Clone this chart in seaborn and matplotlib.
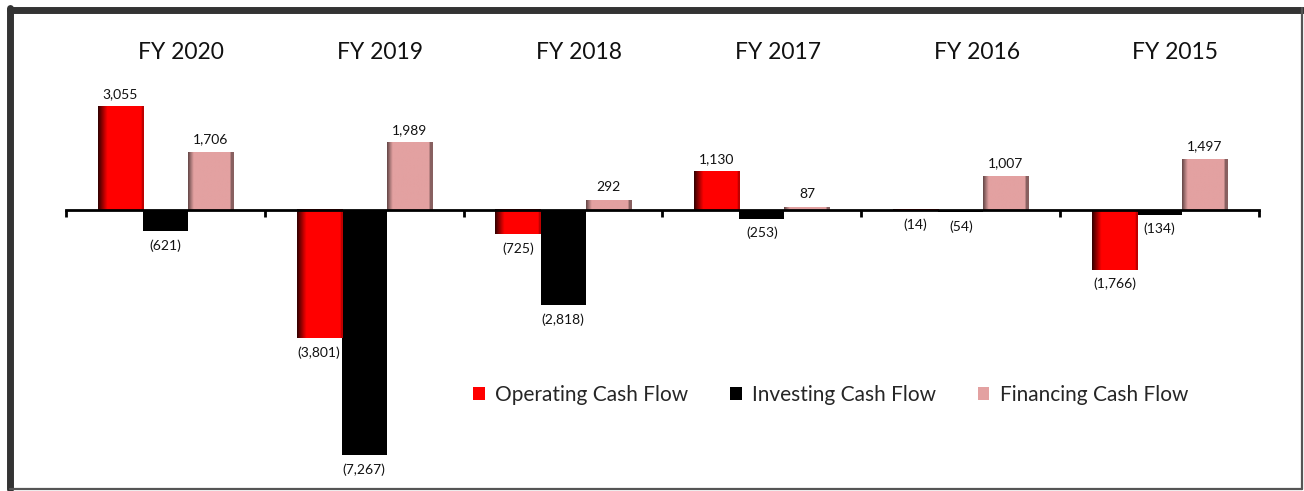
import numpy as np
import pandas as pd
import matplotlib
matplotlib.use("Agg")
import matplotlib.pyplot as plt
import matplotlib.lines as mlines
import seaborn as sns

# data (USD mn)
years = ["FY 2020", "FY 2019", "FY 2018", "FY 2017", "FY 2016", "FY 2015"]
operating = [3055, -3801, -725, 1130, -14, -1766]
investing = [-621, -7267, -2818, -253, -54, -134]
financing = [1706, 1989, 292, 87, 1007, 1497]
series = ["Operating Cash Flow", "Investing Cash Flow", "Financing Cash Flow"]
colors = ["#ff0000", "#000000", "#e3a1a1"]

df = pd.DataFrame({
    "year": years * 3,
    "flow": [series[0]] * 6 + [series[1]] * 6 + [series[2]] * 6,
    "value": operating + investing + financing,
})

sns.set_style("white")
plt.rcParams["font.family"] = ["Lato", "DejaVu Sans"]

fig = plt.figure(figsize=(13.04, 4.91), dpi=100)
ax = fig.add_axes([0.0506, 0.0631, 0.9149, 0.8147])

sns.barplot(data=df, x="year", y="value", hue="flow", order=years,
            hue_order=series, palette=colors, width=0.68, gap=0,
            saturation=1, ax=ax, edgecolor="none", linewidth=0)

handles, labels = ax.get_legend_handles_labels()
if ax.get_legend() is not None:
    ax.get_legend().remove()


def shade_profile(kind, n=80):
    t = np.linspace(0, 1, n)
    if kind == "red":
        f = np.clip(0.2 + 0.8 * t / 0.2, 0, 1)
        f = np.where(t > 0.95, 0.75, f)
    else:
        f = np.clip(0.45 + 0.55 * t / 0.12, 0, 1)
        f = np.where(t > 0.93, 0.6, f)
    return f


# cylinder-like shading on the coloured bars
for cont, col in zip(ax.containers, colors):
    if col == "#000000":
        continue
    rgb = np.array(matplotlib.colors.to_rgb(col))
    prof = shade_profile("red" if col == "#ff0000" else "pink")
    img = (prof[:, None] * rgb[None, :])[None, :, :]
    for p in cont.patches:
        h = p.get_height()
        if h == 0:
            continue
        x0, w, y0 = p.get_x(), p.get_width(), p.get_y()
        ax.imshow(img, extent=[x0, x0 + w, min(y0, y0 + h), max(y0, y0 + h)],
                  aspect="auto", interpolation="bilinear",
                  zorder=p.get_zorder() + 0.1)

# value labels
for cont in ax.containers:
    for p in cont.patches:
        v = p.get_height()
        xc = p.get_x() + p.get_width() / 2
        if v >= 0:
            txt, va, off = f"{v:,.0f}", "bottom", 5
        else:
            txt, va, off = f"({abs(v):,.0f})", "top", -6
        ax.annotate(txt, (xc, v), xytext=(0, off), textcoords="offset points",
                    ha="center", va=va, fontsize=10, color="#111111")

# year headers on top (sit a little right of the group centre)
for i, yr in enumerate(years):
    ax.text(i + 0.08, 1.018, yr, transform=ax.get_xaxis_transform(),
            ha="center", va="center", fontsize=16.5, color="#111111")

ax.set_xlim(-0.5, len(years) - 0.5)
ax.set_ylim(-7415, 4449)
for s in ["top", "right", "left"]:
    ax.spines[s].set_visible(False)
ax.spines["bottom"].set_position(("data", 0))
ax.spines["bottom"].set_linewidth(2)
ax.spines["bottom"].set_color("black")
ax.spines["bottom"].set_zorder(5)
ax.set_xticks(np.arange(-0.5, len(years), 1))
ax.set_xticklabels([])
ax.tick_params(axis="x", direction="out", length=5, width=2, color="black",
               bottom=True)
ax.set_yticks([])
ax.set_xlabel("")
ax.set_ylabel("")

ax.legend(handles, labels, loc="center", bbox_to_anchor=(0.641, 0.163),
          ncol=3, frameon=False, fontsize=15, handlelength=0.55,
          handleheight=0.55, handletextpad=0.5, columnspacing=2.0)

# outer frame (thicker on top and left)
fig.add_artist(mlines.Line2D([0.0077, 0.999], [0.979, 0.979], color="#333333",
                             lw=5, transform=fig.transFigure))
fig.add_artist(mlines.Line2D([0.0077, 0.0077], [0.004, 0.984], color="#333333",
                             lw=5, transform=fig.transFigure))
fig.add_artist(mlines.Line2D([0.9985, 0.9985], [0.004, 0.984], color="#555555",
                             lw=1.6, transform=fig.transFigure))
fig.add_artist(mlines.Line2D([0.0077, 0.9985], [0.005, 0.005], color="#555555",
                             lw=1.6, transform=fig.transFigure))

fig.savefig("out.png", dpi=100, facecolor="white")
